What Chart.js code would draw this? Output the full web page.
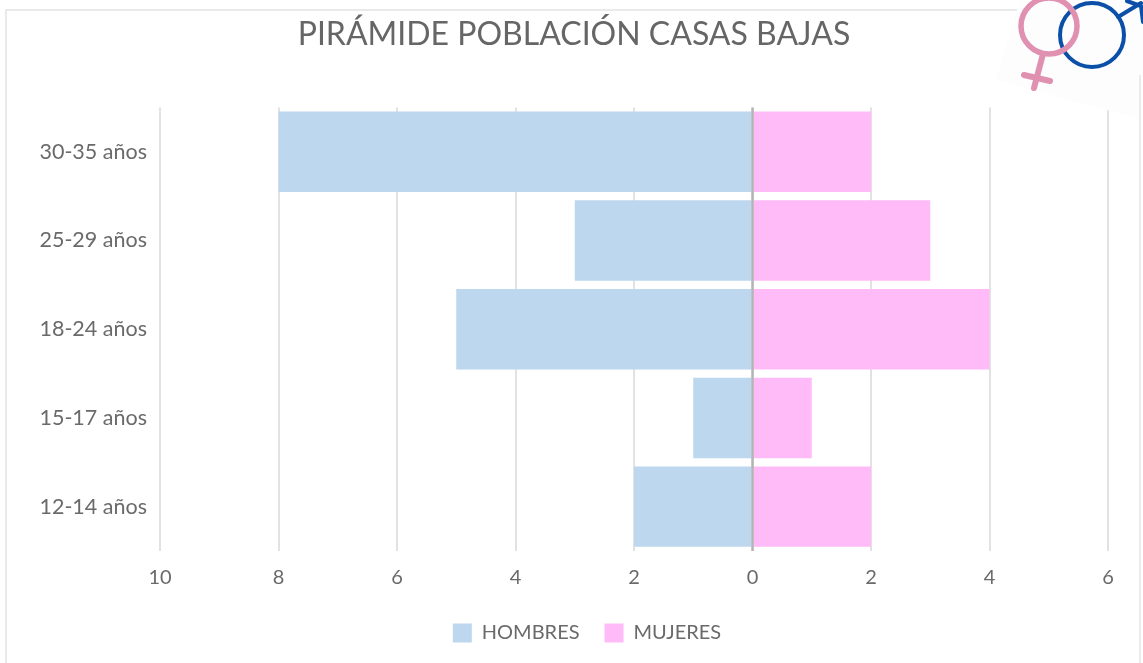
<!DOCTYPE html>
<html><head><meta charset="utf-8">
<script src="https://cdn.jsdelivr.net/npm/chart.js@4/dist/chart.umd.min.js"></script>
<style>html,body{margin:0;padding:0;background:#fff}#w{position:relative;width:1143px;height:663px}canvas{display:block}</style>
</head><body><div id="w"><canvas id="c" width="1143" height="663"></canvas></div>
<script>
const categories = ["30-35 años","25-29 años","18-24 años","15-17 años","12-14 años"];
const hombres = [-8,-3,-5,-1,-2];
const mujeres = [2,3,4,1,2];
const xTicks = [-10,-8,-6,-4,-2,0,2,4,6];
const titleText = "PIRÁMIDE POBLACIÓN CASAS BAJAS";
const FONT = "Lato, 'Open Sans', sans-serif";
const TEXT = "#6a6a6a";

const frame = {id:"frame",beforeDraw(ch){const c=ch.ctx;c.save();c.strokeStyle="#e4e4e4";c.lineWidth=1.5;
  c.beginPath();c.moveTo(6,663);c.lineTo(6,10);c.lineTo(1020,10);c.stroke();c.restore();}};
const zeroLine = {id:"zeroLine",afterDatasetsDraw(ch){const c=ch.ctx,x=ch.scales.x.getPixelForValue(0),a=ch.chartArea;c.save();c.strokeStyle="#b4b4b4";c.lineWidth=2.5;
  c.beginPath();c.moveTo(x,a.top);c.lineTo(x,a.bottom);c.stroke();c.restore();}};
const legendShift = {id:"legendShift",afterLayout(ch){ch.legend.left+=13;ch.legend.right+=13;}};
const emblem = {id:"emblem",afterDraw(ch){const c=ch.ctx;c.save();
  c.fillStyle="#fdfdfe";c.beginPath();c.moveTo(1020,0);c.lineTo(996,80);c.lineTo(1143,120);c.lineTo(1143,0);c.closePath();c.fill();
  c.strokeStyle="#e4e4e4";c.lineWidth=1.5;c.beginPath();c.moveTo(1140,75);c.lineTo(1140,663);c.stroke();
  c.lineCap="round";c.lineJoin="round";
  c.strokeStyle="#0b4fa8";c.lineWidth=4;
  c.beginPath();c.arc(1092,35,32,0,Math.PI*2);c.stroke();
  c.beginPath();c.moveTo(1118,17);c.lineTo(1141,3);c.stroke();
  c.beginPath();c.moveTo(1127,1);c.lineTo(1141,6);c.lineTo(1143,22);c.stroke();
  c.strokeStyle="#e090b0";c.lineWidth=5.5;
  c.beginPath();c.arc(1049,26,28,0,Math.PI*2);c.stroke();
  c.lineWidth=6;
  c.beginPath();c.moveTo(1043,54);c.lineTo(1034,88);c.stroke();
  c.beginPath();c.moveTo(1024,75);c.lineTo(1050,81);c.stroke();
  c.restore();}};

new Chart(document.getElementById("c"),{
  type:"bar",
  data:{labels:categories,datasets:[
    {label:"HOMBRES",data:hombres,backgroundColor:"#bdd7ee",barPercentage:0.907,categoryPercentage:1},
    {label:"MUJERES",data:mujeres,backgroundColor:"#ffbbf7",barPercentage:0.907,categoryPercentage:1}
  ]},
  options:{
    indexAxis:"y",responsive:false,animation:false,
    layout:{padding:{left:40,right:35,top:15,bottom:10}},
    plugins:{
      title:{display:true,text:titleText,color:"#666",font:{family:FONT,size:32,weight:"normal"},padding:{top:0,bottom:54}},
      legend:{position:"bottom",labels:{color:TEXT,font:{family:FONT,size:20},boxWidth:19,boxHeight:19,padding:25}},
      tooltip:{enabled:false}
    },
    scales:{
      x:{stacked:true,min:-10,max:6,afterBuildTicks(s){s.ticks=xTicks.map(v=>({value:v}));},
        afterFit(s){s.height=47;},
        border:{display:false},
        grid:{color:"#e2e2e2",lineWidth:2,drawTicks:false},
        ticks:{color:TEXT,font:{family:FONT,size:20},padding:15,maxRotation:0,autoSkip:false,callback:v=>Math.abs(v)}},
      y:{stacked:true,afterFit(s){s.width=120;},
        border:{display:false},grid:{display:false,drawTicks:false},
        ticks:{color:TEXT,font:{family:FONT,size:21.5},padding:13}}
    }
  },
  plugins:[frame,zeroLine,legendShift,emblem]
});
</script></body></html>
